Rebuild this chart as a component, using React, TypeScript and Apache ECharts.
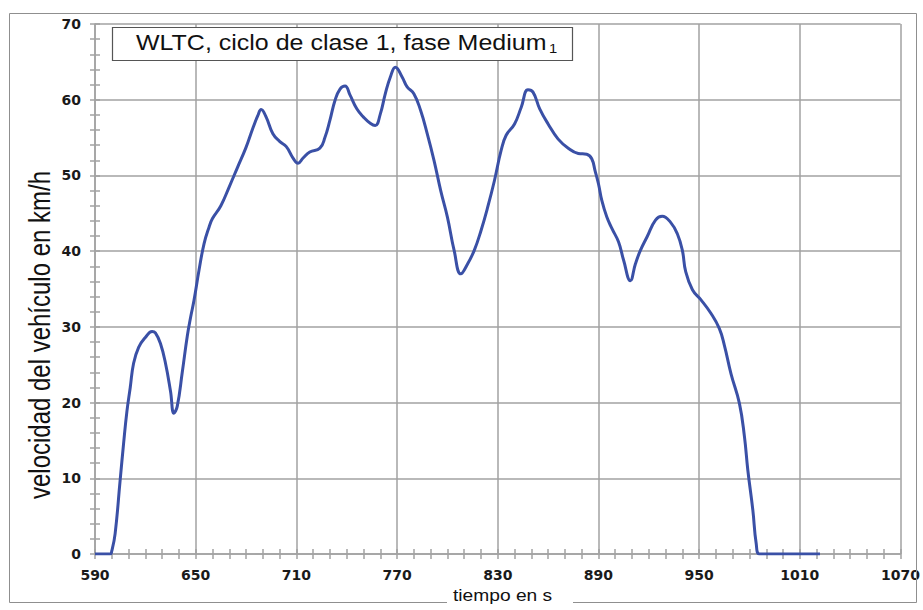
import React, { useEffect, useRef } from "react";
import * as echarts from "echarts";

// time in s (WLTC class 1, medium phase)
const timeS = [
  590, 599, 600, 602, 605, 607, 609, 611, 613, 616,
  620, 624, 626, 629, 632, 635, 637, 639, 642, 645,
  647, 649, 652, 655, 658, 660, 665, 670, 675, 680,
  684, 687, 689, 692, 696, 700, 704, 708, 711, 714,
  718, 724, 727, 730, 733, 736, 739, 742, 746, 750,
  754, 757, 760, 763, 766, 769, 773, 776, 780, 784,
  788, 792, 796, 800, 804, 808, 812, 816, 820, 824,
  828, 832, 835, 840, 844, 848, 851, 855, 860, 866,
  872, 878, 883, 886, 888, 890, 892, 895, 898, 902,
  905, 909, 912, 915, 919, 924, 928, 933, 937, 940,
  942, 946, 951, 957, 962, 965, 969, 974, 977, 979,
  982, 984, 986, 1022,
];

// vehicle speed in km/h
const speedKmh = [
  0, 0, 0.4, 2.7, 9.8, 14.5, 18.8, 22, 25.2, 27.3,
  28.6, 29.4, 29.2, 27.8, 25.2, 21.5, 18.6, 19.5, 24, 28.8,
  31.3, 33.5, 37.5, 41, 43.2, 44.3, 46, 48.5, 51.1, 53.7,
  56.2, 57.9, 58.7, 57.7, 55.5, 54.5, 53.8, 52.3, 51.6, 52.3,
  53.1, 53.6, 55, 57.3, 59.9, 61.4, 61.8, 60.6, 58.8, 57.7,
  56.9, 56.6, 58.1, 60.8, 63, 64.3, 63, 61.7, 60.8, 58.6,
  55.5, 52, 48, 44.5, 40.1, 37, 38.3, 40.1, 42.7, 45.8,
  49.3, 53.3, 55.3, 56.8, 59, 61.3, 61, 58.8, 56.8, 54.8,
  53.6, 52.9, 52.8, 52.2, 50.6, 48.9, 46.7, 44.5, 43, 41.2,
  38.8, 36.1, 38.3, 40.1, 41.9, 44.1, 44.6, 43.8, 42.3, 40.1,
  37.3, 34.9, 33.6, 31.8, 29.8, 27.6, 23.8, 19.9, 15.5, 11.1,
  5.8, 1.4, 0, 0,
];

const xStart = 590;
const xEnd = 1070;
const xStep = 60;
const yMin = 0;
const yMax = 70;
const yStep = 10;

const titleText = "WLTC, ciclo de clase 1, fase Medium";
const titleSub = "1";
const xName = "tiempo en s";
const yName = "velocidad del vehículo en km/h";

export default function App() {
  const ref = useRef<HTMLDivElement>(null);

  useEffect(() => {
    const chart = echarts.init(ref.current!, null, { renderer: "svg" });
    const data = timeS.map((t, i) => [t - xStart, speedKmh[i]]);
    const gridColor = "#a2a2a2";
    const line = { color: gridColor, width: 1.5 };
    const labelStyle = {
      fontFamily: "DejaVu Sans",
      fontWeight: "bold" as const,
      fontSize: 14,
      color: "#1a1a1a",
    };
    const baseX = { type: "value" as const, min: 0, max: xEnd - xStart, interval: xStep, position: "bottom" as const };
    const baseY = { type: "value" as const, min: yMin, max: yMax, interval: yStep, position: "left" as const };

    chart.setOption({
      animation: false,
      backgroundColor: "#ffffff",
      grid: { left: 95, top: 24, width: 806, height: 530 },
      xAxis: [
        {
          ...baseX,
          axisLine: { show: true, lineStyle: line },
          axisTick: { show: true, length: 5, lineStyle: line },
          minorTick: { show: true, splitNumber: 6, length: 5, lineStyle: line },
          splitLine: { show: true, lineStyle: line },
          axisLabel: {
            ...labelStyle,
            margin: 14,
            formatter: (v: number) => String(v + xStart),
          },
        },
        {
          ...baseX,
          axisLine: { show: false },
          axisTick: { show: true, inside: true, length: 5, lineStyle: line },
          minorTick: { show: true, splitNumber: 6, length: 5, lineStyle: line },
          splitLine: { show: false },
          axisLabel: { show: false },
        },
      ],
      yAxis: [
        {
          ...baseY,
          axisLine: { show: true, lineStyle: line },
          axisTick: { show: true, length: 5, lineStyle: line },
          minorTick: { show: true, splitNumber: 5, length: 5, lineStyle: line },
          splitLine: { show: true, lineStyle: line },
          axisLabel: { ...labelStyle, margin: 14 },
        },
        {
          ...baseY,
          axisLine: { show: false },
          axisTick: { show: true, inside: true, length: 5, lineStyle: line },
          minorTick: { show: true, splitNumber: 5, length: 5, lineStyle: line },
          splitLine: { show: false },
          axisLabel: { show: false },
        },
      ],
      series: [
        {
          type: "line",
          xAxisIndex: 0,
          yAxisIndex: 0,
          data,
          showSymbol: false,
          smooth: 0.45,
          lineStyle: { color: "#3a50a6", width: 3 },
          z: 5,
        },
      ],
      graphic: [
        {
          type: "rect",
          z: 50,
          shape: { x: 9.5, y: 13.5, width: 907, height: 589 },
          style: { fill: "none", stroke: "#8f8f8f", lineWidth: 1 },
        },
        {
          type: "rect",
          z: 51,
          shape: { x: 447, y: 594, width: 126, height: 14 },
          style: { fill: "#ffffff", stroke: "none" },
        },
        {
          type: "text",
          z: 52,
          x: 453,
          y: 596,
          scaleX: 1.2,
          style: {
            text: xName,
            font: "16px 'Liberation Sans', Arial, sans-serif",
            fill: "#111111",
            textAlign: "left",
            textVerticalAlign: "middle",
          },
        },
        {
          type: "text",
          z: 52,
          x: 40,
          y: 335,
          rotation: Math.PI / 2,
          scaleY: 1.2,
          style: {
            text: yName,
            font: "24px 'Liberation Sans', Arial, sans-serif",
            fill: "#111111",
            textAlign: "center",
            textVerticalAlign: "middle",
          },
        },
        {
          type: "rect",
          z: 60,
          shape: { x: 112.5, y: 27.5, width: 460, height: 33 },
          style: { fill: "#ffffff", stroke: "#555555", lineWidth: 1.2 },
        },
        {
          type: "text",
          z: 61,
          x: 136,
          y: 43,
          scaleX: 1.136,
          style: {
            text: titleText,
            font: "22px 'Liberation Sans', Arial, sans-serif",
            fill: "#111111",
            textAlign: "left",
            textVerticalAlign: "middle",
          },
        },
        {
          type: "text",
          z: 61,
          x: 549,
          y: 48,
          scaleX: 1.136,
          style: {
            text: titleSub,
            font: "13px 'Liberation Sans', Arial, sans-serif",
            fill: "#111111",
            textAlign: "left",
            textVerticalAlign: "middle",
          },
        },
      ],
    });

    return () => chart.dispose();
  }, []);

  return (
    <div
      ref={ref}
      style={{ position: "fixed", left: 0, top: 0, width: 923, height: 610 }}
    />
  );
}
